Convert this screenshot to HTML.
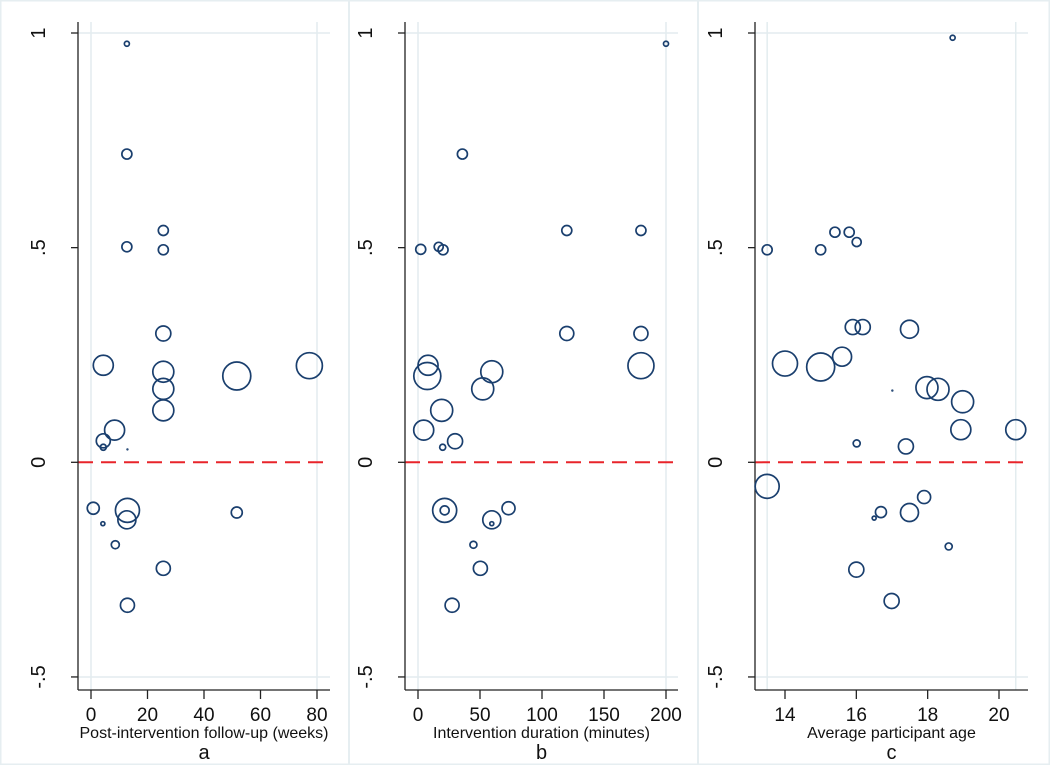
<!DOCTYPE html>
<html><head><meta charset="utf-8">
<style>
html,body{margin:0;padding:0;background:#fff;}
svg{display:block;font-family:"Liberation Sans",Arial,sans-serif;}
</style></head>
<body>
<svg id="chart" width="1050" height="765" viewBox="0 0 1050 765"></svg>
<script>
// Shared y-axis data
const yTicks = [1, 0.5, 0, -0.5];
const yTickLabels = ["1", ".5", "0", "-.5"];

// Panel a: post-intervention follow-up (weeks)
const aX = [12.7,12.7,12.7,25.6,25.6,25.6,4.35,25.6,25.6,25.6,51.6,77.3,8.35,4.35,4.35,12.9,0.8,12.9,12.7,4.2,51.6,8.6,25.6,12.9];
const aY = [0.975,0.718,0.502,0.540,0.495,0.300,0.226,0.211,0.171,0.121,0.201,0.225,0.075,0.050,0.035,0.030,-0.107,-0.112,-0.134,-0.143,-0.117,-0.192,-0.247,-0.333];
const aW = [2.5,5,5,5,5,7.5,10,10.5,10.5,10.5,14,13,10,7,3,0.7,6,12,9,2,5.5,4,7,7];
const aTicks = [0,20,40,60,80];

// Panel b: intervention duration (minutes)
const bX = [200,35.8,2.2,16.7,20.2,120,179.8,120,179.8,8.1,7.5,179.8,59.5,52.2,19.1,4.6,29.9,19.9,21.5,21.5,59.5,59.5,73,44.7,50.3,27.5];
const bY = [0.975,0.718,0.496,0.502,0.495,0.540,0.540,0.300,0.300,0.226,0.201,0.225,0.211,0.171,0.121,0.075,0.049,0.035,-0.112,-0.112,-0.134,-0.143,-0.107,-0.192,-0.247,-0.333];
const bW = [2.5,5,5,4.5,5,5,5,7,7,10,13.5,13,11,11,11,10,7.5,3,12,4.5,9,2,6.5,3.5,7,7];
const bTicks = [0,50,100,150,200];

// Panel c: average participant age
const cX = [18.70,13.50,15.0,15.40,15.80,16.01,15.90,16.18,17.49,14.0,15.0,15.60,17.01,17.98,18.29,18.98,18.93,20.47,16.01,17.39,13.50,17.90,16.69,16.50,17.49,18.59,16.0,16.99];
const cY = [0.989,0.495,0.495,0.536,0.536,0.513,0.315,0.315,0.310,0.230,0.222,0.246,0.167,0.174,0.170,0.141,0.076,0.076,0.044,0.037,-0.056,-0.081,-0.116,-0.130,-0.117,-0.196,-0.250,-0.323];
const cW = [2.5,5,5,5,5,4.5,7.5,7.5,9,12.5,14,9.5,0.7,11,11,11,10,10,3.5,7.5,12,6.5,5.5,2,9,3.5,7.5,7.5];
const cTicks = [14,16,18,20];

const NS = "http://www.w3.org/2000/svg";
const svg = document.getElementById("chart");
function mk(tag, attrs, parent){
  const e = document.createElementNS(NS, tag);
  for (const k in attrs) e.setAttribute(k, attrs[k]);
  (parent||svg).appendChild(e);
  return e;
}
const yScale = v => 462.3 - v*429.3;

const frame = mk("rect",{x:0.5,y:0.5,width:1049,height:764,fill:"none",stroke:"#e6eef1","stroke-width":2});



const panels = [
  {id:"a", xs:aX, ys:aY, ws:aW, ticks:aTicks, axisX:78, endX:330, right:349, x0:0, x1:80, px0:91, px1:317, grid:[0,80], title:"Post-intervention follow-up (weeks)"},
  {id:"b", xs:bX, ys:bY, ws:bW, ticks:bTicks, axisX:405, endX:678, right:698, x0:0, x1:200, px0:418, px1:666, grid:[0,200], title:"Intervention duration (minutes)"},
  {id:"c", xs:cX, ys:cY, ws:cW, ticks:cTicks, axisX:755, endX:1028, right:1048, x0:14, x1:20, px0:785, px1:999, grid:[13.5,20.47], title:"Average participant age"}
];

panels.forEach(p=>{
  const g = mk("g",{});
  
  
  const xs = v => p.px0 + (v-p.x0)*(p.px1-p.px0)/(p.x1-p.x0);
  if (p.id!=="c"){
    const sep = mk("line",{x1:p.right,y1:0,x2:p.right,y2:765,stroke:"#e6eef1","stroke-width":2},g);
    
    
  }
  [1,-0.5].forEach(v=>{
    const l = mk("line",{x1:p.axisX,y1:yScale(v),x2:p.endX,y2:yScale(v),stroke:"#e3ecef","stroke-width":1.5},g);
    
    
  });
  p.grid.forEach(v=>{
    const l = mk("line",{x1:xs(v),y1:22,x2:xs(v),y2:690,stroke:"#e3ecef","stroke-width":1.5},g);
    
    
  });
  const z = mk("line",{x1:p.axisX,y1:yScale(0),x2:p.endX,y2:yScale(0),stroke:"#e8242a","stroke-width":2,"stroke-dasharray":"15 8"},g);
  
  
  const ya = mk("line",{x1:p.axisX,y1:22,x2:p.axisX,y2:690,stroke:"#222","stroke-width":1.3},g);
  
  
  const xa = mk("line",{x1:p.axisX,y1:690,x2:p.endX,y2:690,stroke:"#222","stroke-width":1.3},g);
  
  
  yTicks.forEach((v,i)=>{
    const y = yScale(v);
    const t = mk("line",{x1:p.axisX-7,y1:y,x2:p.axisX,y2:y,stroke:"#222","stroke-width":1.3},g);
    
    
    const lx = p.axisX-33;
    const tx = mk("text",{x:lx,y:y,"font-size":20,fill:"#111","text-anchor":"middle",transform:`rotate(-90 ${lx} ${y})`},g);
    tx.textContent = yTickLabels[i];
    
    
  });
  p.ticks.forEach(v=>{
    const x = xs(v);
    const t = mk("line",{x1:x,y1:690,x2:x,y2:699,stroke:"#222","stroke-width":1.3},g);
    
    
    const tx = mk("text",{x:x,y:721,"font-size":19,fill:"#111","text-anchor":"middle"},g);
    tx.textContent = String(v);
    
    
  });
  const mid = (p.axisX+p.endX)/2;
  const at = mk("text",{x:mid,y:738,"font-size":16,fill:"#111","text-anchor":"middle"},g);
  at.textContent = p.title;
  
  
  const pl = mk("text",{x:mid,y:759,"font-size":20,fill:"#111","text-anchor":"middle"},g);
  pl.textContent = p.id;
  
  
  p.xs.forEach((v,i)=>{
    const c = mk("circle",{cx:xs(v),cy:yScale(p.ys[i]),r:p.ws[i],fill:"none",stroke:"#1a3f6e","stroke-width":p.ws[i]<1?1:1.7},g);
    
    
  });
});
</script>
</body></html>
